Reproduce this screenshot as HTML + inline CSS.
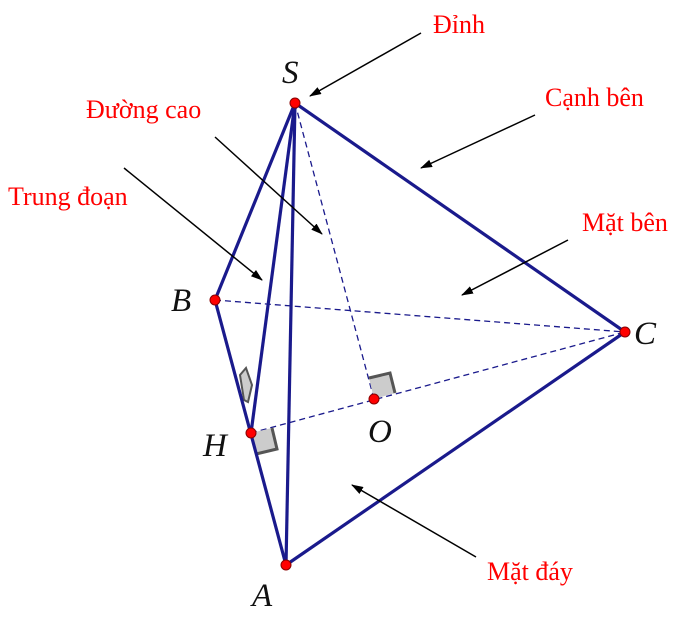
<!DOCTYPE html>
<html><head><meta charset="utf-8"><style>
html,body{margin:0;padding:0;background:#fff;width:687px;height:626px;overflow:hidden}
svg{display:block}
.lbl{font-family:"Liberation Serif",serif;font-size:26px;fill:#f00}
.pt{font-family:"Liberation Serif",serif;font-style:italic;font-size:33px;fill:#111}
</style></head><body>
<svg width="687" height="626" viewBox="0 0 687 626" xmlns="http://www.w3.org/2000/svg">
<defs><marker id="ar" markerWidth="12" markerHeight="8" refX="11" refY="4" orient="auto" markerUnits="userSpaceOnUse"><path d="M0,0 L12,4 L0,8 Z" fill="#000"/></marker></defs>
<g stroke="#1a1a8c" stroke-width="1.3" stroke-dasharray="6,4" fill="none">
<line x1="215" y1="300" x2="625" y2="332"/>
<line x1="251" y1="433" x2="625" y2="332"/>
<line x1="295" y1="103" x2="374" y2="399"/>
</g>
<path d="M374,399 L369,378 L390,373 L395,393 Z" fill="#ccc"/>
<path d="M369,378 L390,373 L395,393" fill="none" stroke="#555" stroke-width="3"/>
<path d="M251,433 L256,454 L277,449 L272,428 Z" fill="#ccc"/>
<path d="M256,454 L277,449 L272,428" fill="none" stroke="#555" stroke-width="3"/>
<path d="M244,400 L240,375 L246,368 L252,385 L248,402 Z" fill="#ccc" stroke="#555" stroke-width="2"/>
<g stroke="#1a1a8c" stroke-width="3.2" fill="none" stroke-linejoin="round">
<line x1="295" y1="103" x2="215" y2="300"/>
<line x1="215" y1="300" x2="286" y2="565"/>
<line x1="295" y1="103" x2="625" y2="332"/>
<line x1="625" y1="332" x2="286" y2="565"/>
<line x1="295" y1="103" x2="286" y2="565"/>
<line x1="295" y1="103" x2="251" y2="433"/>
</g>
<g fill="#f00" stroke="#800" stroke-width="1">
<circle cx="295" cy="103" r="5"/><circle cx="215" cy="300" r="5"/><circle cx="625" cy="332" r="5"/>
<circle cx="286" cy="565" r="5"/><circle cx="251" cy="433" r="5"/><circle cx="374" cy="399" r="5"/>
</g>
<text class="pt" x="282" y="83">S</text>
<text class="pt" x="171" y="311">B</text>
<text class="pt" x="634" y="344">C</text>
<text class="pt" x="203" y="456">H</text>
<text class="pt" x="368" y="442">O</text>
<text class="pt" x="252" y="606">A</text>
<g stroke="#000" stroke-width="1.5" marker-end="url(#ar)">
<line x1="421" y1="33" x2="310" y2="96"/>
<line x1="535" y1="115" x2="421" y2="168"/>
<line x1="215" y1="137" x2="322" y2="234"/>
<line x1="124" y1="168" x2="262" y2="280"/>
<line x1="568" y1="240" x2="462" y2="295"/>
<line x1="476" y1="557" x2="352" y2="485"/>
</g>
<text class="lbl" x="433" y="33">Đỉnh</text>
<text class="lbl" x="545" y="106">Cạnh bên</text>
<text class="lbl" x="86" y="118">Đường cao</text>
<text class="lbl" x="8" y="205">Trung đoạn</text>
<text class="lbl" x="582" y="231">Mặt bên</text>
<text class="lbl" x="487" y="580">Mặt đáy</text>
</svg>
</body></html>
